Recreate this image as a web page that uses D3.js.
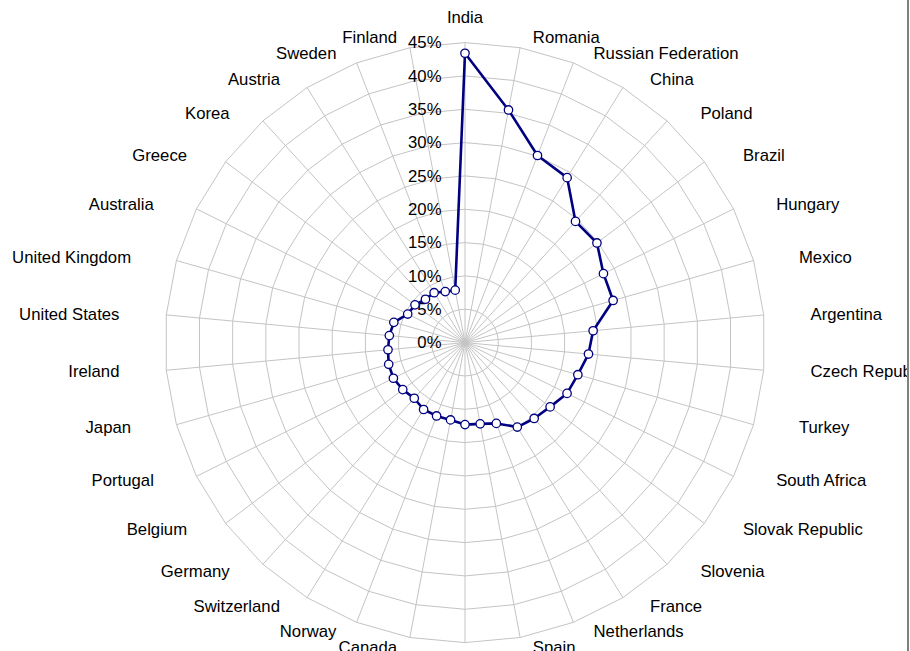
<!DOCTYPE html>
<html>
<head>
<meta charset="utf-8">
<script src="https://cdn.jsdelivr.net/npm/d3@7"></script>
<style>
  html, body { margin: 0; padding: 0; background: #fff; }
  svg { display: block; }
  text { font-family: "Liberation Sans", Arial, sans-serif; fill: #000; }
</style>
</head>
<body>
<svg id="chart" width="910" height="651"></svg>
<script>
// ---- data ----
const categories = [
  "India", "Romania", "Russian Federation", "China", "Poland", "Brazil",
  "Hungary", "Mexico", "Argentina", "Czech Republic", "Turkey", "South Africa",
  "Slovak Republic", "Slovenia", "France", "Netherlands", "Spain", "Italy",
  "Canada", "Norway", "Switzerland", "Germany", "Belgium", "Portugal",
  "Japan", "Ireland", "United States", "United Kingdom", "Australia", "Greece",
  "Korea", "Austria", "Sweden", "Finland"
];
const values = [
  0.434, 0.355, 0.301, 0.291, 0.246, 0.248,
  0.232, 0.231, 0.193, 0.186, 0.176, 0.171,
  0.160, 0.154, 0.149, 0.130, 0.124, 0.123,
  0.118, 0.118, 0.118, 0.113, 0.117, 0.120,
  0.119, 0.116, 0.114, 0.111, 0.096, 0.094,
  0.088, 0.088, 0.082, 0.080
];
const tickValues = [0, 0.05, 0.10, 0.15, 0.20, 0.25, 0.30, 0.35, 0.40, 0.45];

// ---- layout ----
const cx = 465, cy = 342.6, R = 300;
const sx = 1.045; // slight horizontal stretch of text, as in the reference
const svg = d3.select("#chart");
const n = categories.length;

const r = d3.scaleLinear().domain([0, 0.45]).range([0, R]);
const ang = d3.scaleLinear().domain([0, n]).range([0, 2 * Math.PI]);
const fmt = d3.format(".0%");

const px = (i, rad) => cx + rad * Math.sin(ang(i));
const py = (i, rad) => cy - rad * Math.cos(ang(i));

svg.append("defs").append("clipPath").attr("id", "clip")
  .append("rect").attr("x", 0).attr("y", 0).attr("width", 907).attr("height", 651);

const g = svg.append("g").attr("clip-path", "url(#clip)");
const idx = d3.range(n);

// rings (polygons)
const ringLine = d3.line().curve(d3.curveLinearClosed);
g.append("g").selectAll("path")
  .data(tickValues.filter(t => t > 0))
  .join("path")
  .attr("d", t => ringLine(idx.map(i => [px(i, r(t)), py(i, r(t))])))
  .attr("fill", "none")
  .attr("stroke", "#c4c4c4")
  .attr("stroke-width", 1);

// spokes
g.append("g").selectAll("line")
  .data(idx)
  .join("line")
  .attr("x1", cx).attr("y1", cy)
  .attr("x2", i => px(i, R)).attr("y2", i => py(i, R))
  .attr("stroke", "#c4c4c4")
  .attr("stroke-width", 1);

// tick labels
g.append("g").selectAll("text")
  .data(tickValues)
  .join("text")
  .attr("transform", t => `translate(${cx - 23.5},${cy - r(t)}) scale(${sx},1)`)
  .attr("dy", "0.35em")
  .attr("text-anchor", "end")
  .style("font-size", "16px")
  .text(t => fmt(t));

// category labels
g.append("g").selectAll("text")
  .data(idx)
  .join("text")
  .each(function (i) {
    const s = Math.sin(ang(i)), c = Math.cos(ang(i));
    const x0 = px(i, R), y0 = py(i, R);
    const t = d3.select(this);
    let x, y, anchor;
    if (Math.abs(s) < 0.01) {
      x = x0; y = y0 - 25.5 * Math.sign(c); anchor = "middle";
    } else {
      const off = 5 + 42 * Math.abs(s);
      x = x0 + Math.sign(s) * off; y = y0 - 10 * c;
      anchor = s > 0 ? "start" : "end";
    }
    t.attr("transform", `translate(${x},${y}) scale(${sx},1)`).attr("text-anchor", anchor);
  })
  .attr("dy", "0.35em")
  .style("font-size", "16px")
  .text(i => categories[i]);

// series line
const pts = idx.map(i => [px(i, r(values[i])), py(i, r(values[i]))]);
g.append("path")
  .attr("d", ringLine(pts))
  .attr("fill", "none")
  .attr("stroke", "#000080")
  .attr("stroke-width", 2.6)
  .attr("stroke-linejoin", "round");

g.append("g").selectAll("circle")
  .data(pts)
  .join("circle")
  .attr("cx", d => d[0]).attr("cy", d => d[1])
  .attr("r", 4.2)
  .attr("fill", "#fff")
  .attr("stroke", "#000080")
  .attr("stroke-width", 1.3);

// right border
svg.append("line")
  .attr("x1", 908).attr("x2", 908).attr("y1", 0).attr("y2", 651)
  .attr("stroke", "#808080").attr("stroke-width", 2);
</script>
</body>
</html>
